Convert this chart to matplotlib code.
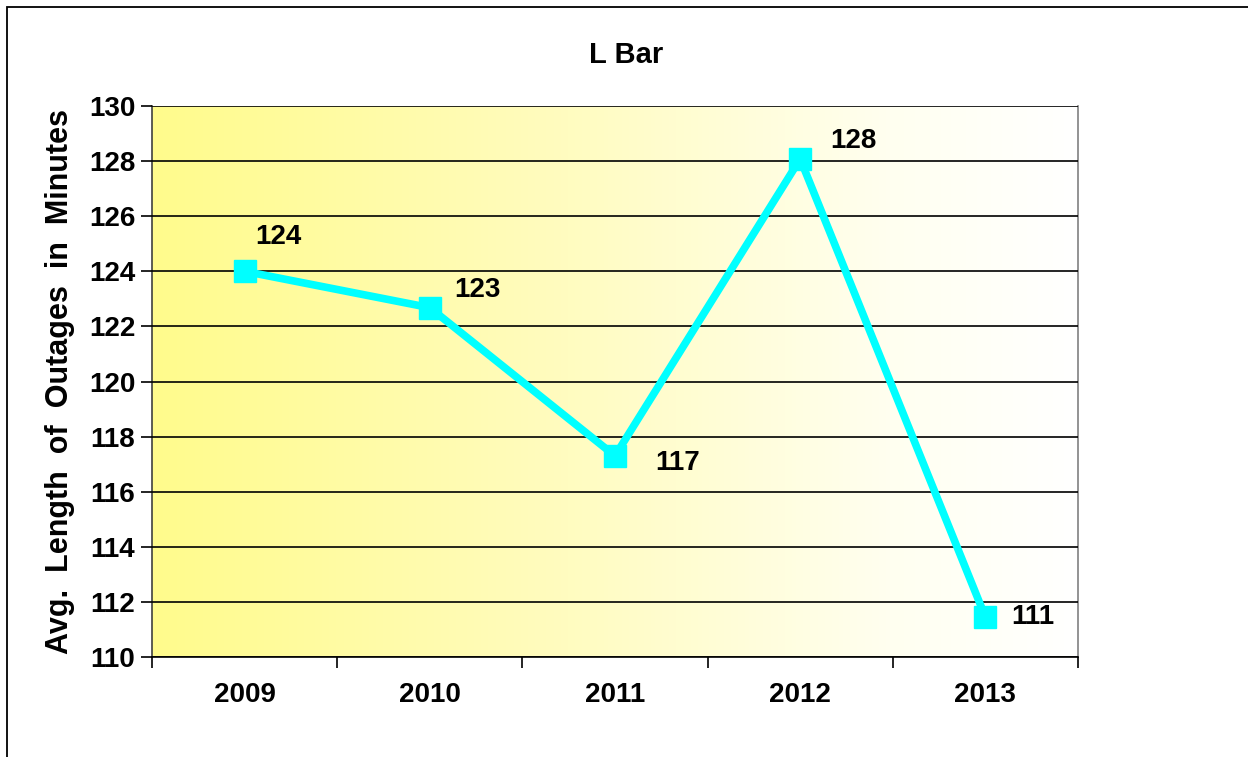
import numpy as np
import matplotlib.pyplot as plt
from matplotlib.colors import LinearSegmentedColormap
from matplotlib.patches import Rectangle

years = ["2009", "2010", "2011", "2012", "2013"]
avg_minutes = [124.0, 122.68, 117.3, 128.08, 111.45]
label_offsets = [(24, 25), (34, 13), (45, -5), (38, 13), (34, 0)]  # points

fam = ["Liberation Sans", "DejaVu Sans"]

fig = plt.figure(figsize=(12.48, 7.57), dpi=100)
ax = fig.add_axes([152 / 1248, 1 - 657 / 757, 926 / 1248, 551 / 757])

# outer chart frame (only left/top edges fall inside the image)
fig.patches.append(Rectangle((7 / 1248, -0.1), 1.2, (757 - 7) / 757 + 0.1,
                             transform=fig.transFigure, fill=False,
                             edgecolor="black", linewidth=1.3))

# yellow-to-white horizontal gradient behind the plot
cmap = LinearSegmentedColormap.from_list(
    "ylw", [(0, "#fffb8c"), (0.45, "#fffcc0"), (0.8, "#fffff0"), (1, "#ffffff")])
grad = np.linspace(0, 1, 256).reshape(1, -1)
ax.imshow(grad, cmap=cmap, aspect="auto", extent=(-0.5, 4.5, 110, 130),
          zorder=0)

x = np.arange(len(years))
ax.plot(x, avg_minutes, color="#00ffff", linewidth=5.5, marker="s",
        markersize=16, zorder=4)

for xi, v, off in zip(x, avg_minutes, label_offsets):
    ax.annotate(f"{v:.0f}", (xi, v), xytext=off, textcoords="offset points",
                ha="center", va="center", fontsize=20, fontweight="bold",
                family=fam, zorder=5)

ax.set_xlim(-0.5, 4.5)
ax.set_ylim(110, 130)
ax.set_yticks(np.arange(110, 131, 2))
ax.yaxis.grid(True, color="black", linewidth=1.2)
ax.set_axisbelow(False)
for gl in ax.get_ygridlines():
    gl.set_zorder(1)

ax.set_xticks(x)
ax.set_xticklabels(years)
ax.set_xticks(np.arange(-0.5, 5, 1), minor=True)
ax.tick_params(axis="x", which="major", length=0, pad=18)
ax.tick_params(axis="x", which="minor", length=8, width=1.2, direction="out")
ax.tick_params(axis="y", length=8, width=1.2, direction="out", pad=4)
for lab in ax.get_xticklabels() + ax.get_yticklabels():
    lab.set_fontsize(20)
    lab.set_fontweight("bold")
    lab.set_family(fam)

ax.spines["top"].set_visible(False)
ax.spines["right"].set_color("#808080")
ax.spines["left"].set_color("#404040")
ax.spines["bottom"].set_color("black")
for s in ax.spines.values():
    s.set_linewidth(1.2)

ax.set_ylabel("Avg.  Length  of  Outages  in  Minutes", fontsize=22,
              fontweight="bold", family=fam, labelpad=10)
fig.text(626 / 1248, 1 - 55 / 757, "L Bar", ha="center", va="center",
         fontsize=21, fontweight="bold", family=fam)

fig.savefig("out.png", dpi=100)
